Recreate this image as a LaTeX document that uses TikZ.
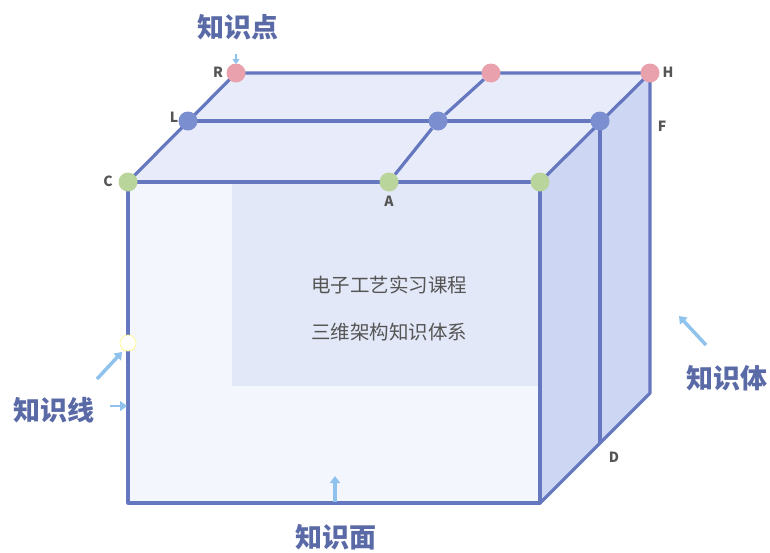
\documentclass[tikz,border=0pt]{standalone}
\usepackage{fontspec}
\newfontfamily\cjk{Noto Sans CJK SC}
\usetikzlibrary{arrows.meta}
\definecolor{edge}{HTML}{6577BE}
\definecolor{frontfill}{HTML}{F4F6FD}
\definecolor{innerfill}{HTML}{E2E8F8}
\definecolor{topfill}{HTML}{E8ECFA}
\definecolor{sidefill}{HTML}{CDD6F2}
\definecolor{labelc}{HTML}{5A6AA6}
\definecolor{letterc}{HTML}{555555}
\definecolor{arrowc}{HTML}{8FC2EC}
\definecolor{pinkdot}{HTML}{E9A2AD}
\definecolor{bluedot}{HTML}{7A8ED0}
\definecolor{greendot}{HTML}{B9D59C}
\tikzset{
  edgeline/.style={draw=edge, line width=3.2pt, line join=round},
  dotp/.style={circle, fill=pinkdot, minimum size=19pt, inner sep=0pt},
  dotb/.style={circle, fill=bluedot, minimum size=19pt, inner sep=0pt},
  dotg/.style={circle, fill=greendot, minimum size=19pt, inner sep=0pt},
  dotw/.style={circle, fill=white, draw=yellow!40!white, line width=0.8pt, minimum size=16pt, inner sep=0pt},
  letter/.style={text=letterc, font=\cjk\bfseries\fontsize{14}{14}\selectfont, inner sep=0pt},
  bigtag/.style={text=labelc, font=\cjk\bfseries\fontsize{27}{27}\selectfont, inner sep=0pt},
  centertext/.style={text=letterc, font=\cjk\fontsize{19.5}{19.5}\selectfont, inner sep=0pt},
  hint/.style={draw=arrowc, line width=3.5pt, -{Triangle[length=7pt,width=10pt]}},
}
\begin{document}
\begin{tikzpicture}[x=1pt,y=-1pt]
\useasboundingbox (0,0) rectangle (770,552);
% corners
\coordinate (FTL) at (128,182);
\coordinate (FTR) at (540,182);
\coordinate (FBL) at (128,503);
\coordinate (FBR) at (540,503);
\coordinate (BTL) at (236,73);
\coordinate (BTR) at (650,73);
\coordinate (BBR) at (650,393);
\coordinate (MTL) at (188,121);
\coordinate (MTR) at (600,121);
\coordinate (MBR) at (600,443);
\coordinate (IA) at (232,182);
\coordinate (IB) at (540,386);
% fills
\fill[frontfill] (FTL) rectangle (FBR);
\fill[innerfill] (IA) rectangle (IB);
\fill[topfill] (FTL) -- (BTL) -- (BTR) -- (FTR) -- cycle;
\fill[sidefill] (FTR) -- (BTR) -- (BBR) -- (FBR) -- cycle;
% edges
\draw[edgeline] (FTL) rectangle (FBR);
\draw[edgeline] (FTL) -- (BTL) -- (BTR) -- (FTR);
\draw[edgeline] (BTR) -- (BBR) -- (FBR);
\draw[edgeline] (MTL) -- (MTR) -- (MBR);
% dots
\node[dotp] (R) at (BTL) {};
\node[dotp] (P2) at (491,73) {};
\node[dotp] (H) at (BTR) {};
\node[dotb] (L) at (MTL) {};
\node[dotb] (B2) at (438,121) {};
\node[dotb] (F) at (MTR) {};
\node[dotg] (C) at (FTL) {};
\node[dotg] (A) at (389,182) {};
\node[dotg] (G3) at (FTR) {};
\draw[edgeline] (A) -- (B2) -- (P2);
\node[dotw] (W) at (128,343) {};
% letters
\node[letter] at (218,72) {R};
\node[letter] at (174,117) {L};
\node[letter] at (108,181) {C};
\node[letter] at (389,201) {A};
\node[letter] at (668,72) {H};
\node[letter] at (662,126) {F};
\node[letter] at (614,457) {D};
% center text
\node[centertext] (T1) at (389,285) {电子工艺实习课程};
\node[centertext] (T2) at (389,332) {三维架构知识体系};
% tags
\node[bigtag] (Kd) at (238,27) {知识点};
\node[bigtag] (Kx) at (54,410) {知识线};
\node[bigtag] (Kt) at (727,378) {知识体};
\node[bigtag] (Km) at (336,537) {知识面};
% hint arrows
\coordinate (a1s) at (236,54);
\coordinate (a1e) at (236,64);
\draw[hint, line width=2pt, -{Triangle[length=5pt,width=7pt]}] (a1s) -- (a1e);
\coordinate (a2s) at (97,379);
\coordinate (a2e) at (122,352);
\draw[hint] (a2s) -- (a2e);
\coordinate (a3s) at (110,406);
\coordinate (a3e) at (127,406);
\draw[hint, line width=2.5pt] (a3s) -- (a3e);
\coordinate (a4s) at (706,345);
\coordinate (a4e) at (679,316);
\draw[hint] (a4s) -- (a4e);
\coordinate (a5s) at (335,502);
\coordinate (a5e) at (335,476);
\draw[hint] (a5s) -- (a5e);
\end{tikzpicture}
\end{document}
